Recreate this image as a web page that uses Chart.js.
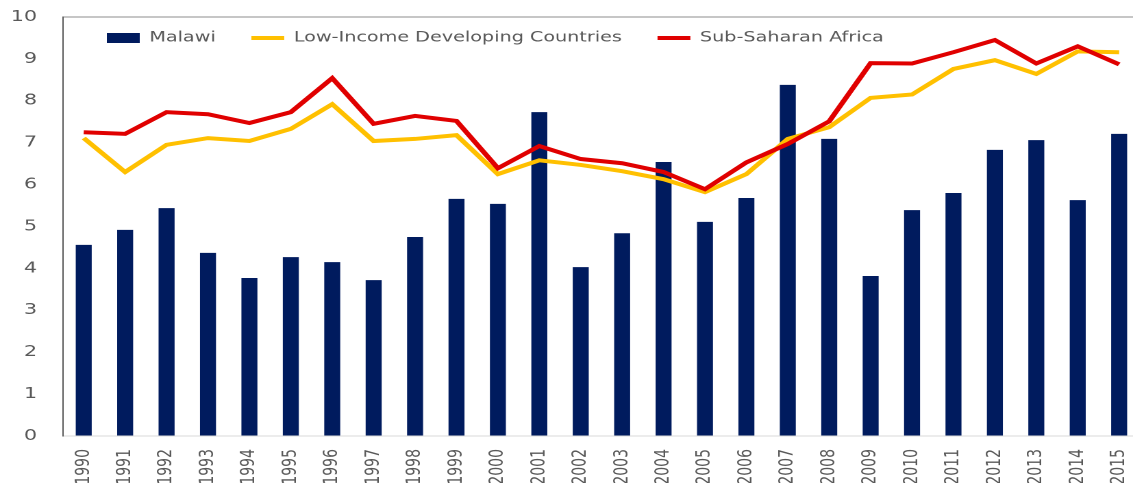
<!DOCTYPE html>
<html>
<head>
<meta charset="utf-8">
<script src="https://cdn.jsdelivr.net/npm/chart.js@4"></script>
<style>
  html, body { margin: 0; padding: 0; background: #fff; overflow: hidden; }
  /* the reference is a horizontally stretched picture, so the whole chart is stretched too */
  #wrap { width: 834px; height: 483px; transform: scaleX(1.37); transform-origin: 0 0; }
</style>
</head>
<body>
<div id="wrap"><canvas id="chart"></canvas></div>
<script>
// ── data ──────────────────────────────────────────────
const years = ['1990','1991','1992','1993','1994','1995','1996','1997','1998','1999',
  '2000','2001','2002','2003','2004','2005','2006','2007','2008','2009',
  '2010','2011','2012','2013','2014','2015'];

const malawi = [4.56, 4.92, 5.44, 4.37, 3.77, 4.27, 4.15, 3.72, 4.75, 5.66,
  5.54, 7.73, 4.03, 4.84, 6.54, 5.11, 5.68, 8.38, 7.09, 3.82,
  5.39, 5.80, 6.83, 7.06, 5.63, 7.21];

const lowIncome = [7.11, 6.30, 6.95, 7.11, 7.04, 7.33, 7.92, 7.04, 7.09, 7.18,
  6.25, 6.58, 6.47, 6.32, 6.13, 5.82, 6.25, 7.09, 7.37, 8.07,
  8.15, 8.76, 8.97, 8.64, 9.18, 9.16];

const subSaharan = [7.25, 7.21, 7.73, 7.68, 7.47, 7.73, 8.54, 7.45, 7.64, 7.52,
  6.39, 6.92, 6.61, 6.51, 6.30, 5.89, 6.53, 6.97, 7.51, 8.90,
  8.89, 9.16, 9.45, 8.89, 9.30, 8.87];

const yMin = 0, yMax = 10, yStep = 1;

const seriesNames = ['Malawi', 'Low-Income Developing Countries', 'Sub-Saharan Africa'];

// ── chart ─────────────────────────────────────────────
const GREY = '#595959';
const FONT = 'DejaVu Sans';

// legend sits inside the plot, under the top border
const legendInside = {
  id: 'legendInside',
  afterLayout(chart) {
    const lg = chart.legend;
    lg.left = 52;
    lg.top = 5;
    lg.right = 840;
    lg.bottom = 70;
  }
};

// tick padding should not push the plot area in
const noScalePadding = s => { s.paddingTop = s.paddingBottom = s.paddingLeft = s.paddingRight = 0; };

new Chart(document.getElementById('chart'), {
  type: 'bar',
  data: {
    labels: years,
    datasets: [
      { label: seriesNames[0], data: malawi, backgroundColor: '#001B5E', order: 3,
        barPercentage: 0.386, categoryPercentage: 1 },
      { type: 'line', label: seriesNames[1], data: lowIncome, borderColor: '#FFC000',
        backgroundColor: '#FFC000', borderWidth: 4, pointRadius: 0, tension: 0, order: 2 },
      { type: 'line', label: seriesNames[2], data: subSaharan, borderColor: '#E00000',
        backgroundColor: '#E00000', borderWidth: 4, pointRadius: 0, tension: 0, order: 1 }
    ]
  },
  options: {
    responsive: true, maintainAspectRatio: false, animation: false,
    devicePixelRatio: 2,
    layout: { padding: { top: 16, right: 1, left: 0, bottom: 0 } },
    plugins: {
      tooltip: { enabled: false },
      legend: {
        position: 'top', align: 'start', maxHeight: 1,
        labels: {
          color: GREY, font: { family: FONT, size: 14 },
          usePointStyle: true, pointStyleWidth: 24, boxHeight: 10, padding: 26,
          sort: (a, b) => a.datasetIndex - b.datasetIndex,
          generateLabels: chart => Chart.defaults.plugins.legend.labels.generateLabels(chart)
            .map(l => ({ ...l, pointStyle: l.datasetIndex === 0 ? 'rect' : 'line', lineWidth: l.datasetIndex === 0 ? 0 : 4 }))
        }
      }
    },
    scales: {
      x: {
        grid: { display: false, drawTicks: false },
        border: { color: '#D9D9D9', width: 1 },
        ticks: { color: GREY, font: { family: FONT, size: 14 }, minRotation: 90, maxRotation: 90,
          autoSkip: false, padding: 13 },
        afterFit: s => { noScalePadding(s); s.height = 47; }
      },
      y: {
        min: yMin, max: yMax,
        grid: { drawTicks: false, color: c => c.tick && c.tick.value === yMax ? '#8C8C8C' : 'rgba(0,0,0,0)' },
        border: { color: GREY, width: 1 },
        ticks: { stepSize: yStep, color: GREY, font: { family: FONT, size: 15 }, padding: 19 },
        afterFit: s => { noScalePadding(s); s.width = 46; }
      }
    }
  },
  plugins: [legendInside]
});
</script>
</body>
</html>
